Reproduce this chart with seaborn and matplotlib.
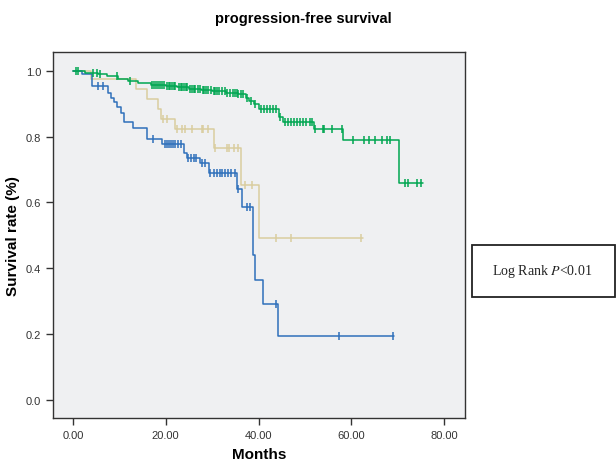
import numpy as np
import pandas as pd
import matplotlib
matplotlib.use("Agg")
import matplotlib.pyplot as plt
from matplotlib.patches import Rectangle
import seaborn as sns

# blue group: event times (months), survival after each event, censored times
blue_times = [2.0, 4.2, 7.6, 8.1, 8.9, 9.6, 10.3, 10.9, 13.0, 15.9, 19.3, 24.0, 24.5,
              27.4, 29.4, 35.4, 36.4, 38.9, 39.2, 41.0, 44.1]
blue_surv = [0.990, 0.955, 0.931, 0.917, 0.904, 0.889, 0.872, 0.843, 0.826, 0.794, 0.777,
             0.750, 0.736, 0.721, 0.691, 0.640, 0.585, 0.440, 0.365, 0.292, 0.195]
blue_censor = [5.4, 6.4, 17.3, 19.8, 20.3, 20.6, 21.2, 21.6, 22.0, 22.6, 23.2, 24.8, 25.4,
               26.0, 26.6, 27.8, 28.4, 29.6, 30.4, 31.0, 31.6, 32.2, 32.8, 33.4, 34.0,
               35.0, 35.6, 37.5, 38.2, 43.8, 57.4, 68.9]
blue_end = 69.2

# tan group
tan_times = [4.0, 13.6, 16.0, 18.4, 18.9, 22.0, 30.3, 36.3, 40.0]
tan_surv = [0.974, 0.943, 0.913, 0.883, 0.852, 0.822, 0.764, 0.654, 0.491]
tan_censor = [19.5, 20.3, 22.4, 23.4, 24.2, 25.6, 27.8, 28.1, 29.2, 30.6, 33.1, 33.7,
              34.6, 35.6, 37.1, 38.5, 43.8, 46.9, 62.1]
tan_end = 62.6

# green group
green_times = [2.5, 5.5, 7.3, 9.8, 11.9, 14.1, 16.8, 20.0, 22.5, 25.0, 27.5, 30.0, 33.0,
               35.5, 37.2, 38.0, 39.0, 40.2, 44.3, 45.3, 52.0, 58.2, 70.2]
green_surv = [0.994, 0.990, 0.984, 0.976, 0.968, 0.962, 0.958, 0.954, 0.950, 0.945, 0.941,
              0.937, 0.933, 0.929, 0.918, 0.908, 0.898, 0.883, 0.858, 0.845, 0.824, 0.790,
              0.658]
green_censor = [0.6, 1.0, 4.4, 5.1, 5.8, 9.4, 12.3, 17.0, 17.4, 17.8, 18.3, 18.7, 19.1,
                19.6, 20.3, 20.7, 21.0, 21.3, 21.8, 22.0, 22.8, 23.2, 23.5, 24.0, 24.3,
                24.6, 25.2, 25.7, 26.0, 26.3, 26.9, 27.4, 28.0, 28.3, 28.6, 29.1, 29.8,
                30.4, 30.7, 31.0, 31.5, 32.1, 32.7, 33.3, 33.9, 34.4, 35.0, 35.3, 35.6,
                36.2, 36.6, 37.6, 38.4, 39.3, 40.6, 41.2, 41.9, 42.5, 43.1, 43.7, 44.6,
                45.8, 46.4, 47.0, 47.6, 48.3, 48.9, 49.6, 50.2, 51.0, 51.5, 52.2, 53.8,
                54.0, 55.8, 57.9, 60.4, 62.7, 63.7, 65.1, 66.6, 67.6, 68.4, 71.6, 72.3,
                74.1, 75.0]
green_end = 75.5

colors = {"blue": "#2e6fba", "tan": "#d9cd9f", "green": "#00a651"}


def step_frame(times, surv, end):
    t = [0.0] + list(times) + [end]
    s = [1.0] + list(surv) + [surv[-1]]
    return pd.DataFrame({"month": t, "surv": s})


def censor_frame(times, surv, censor):
    t = np.array([0.0] + list(times))
    s = np.array([1.0] + list(surv))
    idx = np.searchsorted(t, censor, side="right") - 1
    return pd.DataFrame({"month": censor, "surv": s[idx]})


sns.set_theme(style="white")
plt.rcParams["font.family"] = ["Liberation Sans", "DejaVu Sans"]
plt.rcParams["mathtext.fontset"] = "stix"

fig = plt.figure(figsize=(6.16, 4.64), dpi=100)
ax = fig.add_axes([0.086, 0.097, 0.669, 0.789])
ax.set_facecolor("#eff0f2")

groups = [("tan", tan_times, tan_surv, tan_censor, tan_end),
          ("blue", blue_times, blue_surv, blue_censor, blue_end),
          ("green", green_times, green_surv, green_censor, green_end)]

for name, times, surv, censor, end in groups:
    c = colors[name]
    sns.lineplot(data=step_frame(times, surv, end), x="month", y="surv", ax=ax,
                 drawstyle="steps-post", estimator=None, sort=False,
                 color=c, linewidth=1.1)
    sns.scatterplot(data=censor_frame(times, surv, censor), x="month", y="surv", ax=ax,
                    marker="|", s=40, linewidth=1.1, color=c, zorder=3)

ax.set_xlim(-4.3, 84.5)
ax.set_ylim(-0.054, 1.057)
ax.set_xticks([0, 20, 40, 60, 80])
ax.set_xticklabels([f"{v:.2f}" for v in [0, 20, 40, 60, 80]])
ax.set_yticks([0.0, 0.2, 0.4, 0.6, 0.8, 1.0])
ax.set_yticklabels([f"{v:.1f}" for v in [0.0, 0.2, 0.4, 0.6, 0.8, 1.0]])
ax.tick_params(axis="both", direction="out", length=5, width=1, colors="#333333",
               labelsize=8, labelcolor="#333333", left=True, bottom=True)
for sp in ax.spines.values():
    sp.set_color("#333333")
    sp.set_linewidth(1.0)

ax.set_xlabel("Months", fontsize=11, fontweight="bold", labelpad=5, color="black")
ax.set_ylabel("Survival rate (%)", fontsize=11, fontweight="bold", labelpad=4,
              color="black")
fig.text(0.493, 0.958, "progression-free survival", ha="center", va="center",
         fontsize=10.5, fontweight="bold", color="black")

fig.add_artist(Rectangle((472 / 616, 1 - 298 / 464), 143 / 616, 52 / 464,
                         transform=fig.transFigure, fill=False,
                         edgecolor="#222222", linewidth=1.3))
fig.text(542 / 616, 1 - 272 / 464, "Log Rank $P$<0.01", ha="center", va="center",
         fontsize=10, family="Liberation Serif", color="#222222")

fig.savefig("out.png", dpi=100)
